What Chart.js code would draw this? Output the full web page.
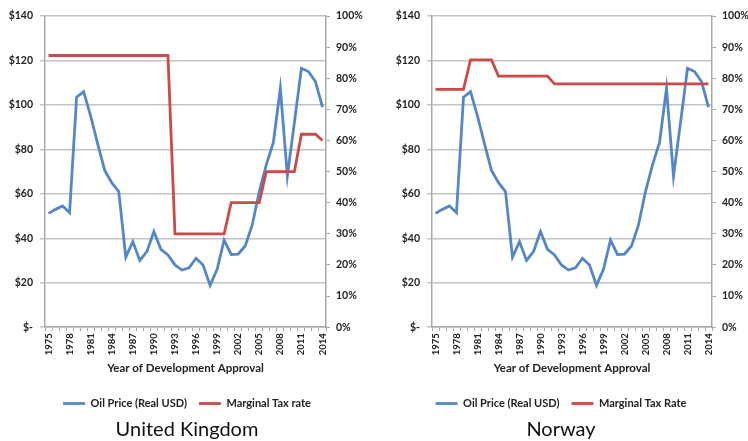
<!DOCTYPE html>
<html>
<head>
<meta charset="utf-8">
<script src="https://cdn.jsdelivr.net/npm/chart.js@4.4.1/dist/chart.umd.min.js"></script>
<style>
  html, body { margin: 0; padding: 0; background: #fff; }
  #wrap { position: relative; width: 748px; height: 441px; overflow: hidden; }
  .box { position: absolute; top: 0; width: 374px; height: 441px; }
</style>
</head>
<body>
<div id="wrap">
  <div class="box" style="left:0"><canvas id="uk" width="374" height="441"></canvas></div>
  <div class="box" style="left:374px"><canvas id="no" width="374" height="441"></canvas></div>
</div>
<script>
const years = [];
for (let y = 1975; y <= 2014; y++) years.push(String(y));

const oilPrice = [51.2, 53, 54.5, 51.5, 103.5, 106, 95, 82.5, 70.5, 65,
                  61, 31.5, 38.5, 30, 34, 43, 35, 32.5, 28, 25.7,
                  26.7, 31, 28, 18.8, 26, 39.2, 32.7, 32.9, 36.5, 46,
                  61, 73, 83, 107.5, 68, 92, 116.5, 115, 110.5, 99];

const ukTaxRate = [87.3, 87.3, 87.3, 87.3, 87.3, 87.3, 87.3, 87.3, 87.3, 87.3,
                   87.3, 87.3, 87.3, 87.3, 87.3, 87.3, 87.3, 87.3, 30, 30,
                   30, 30, 30, 30, 30, 30, 40, 40, 40, 40,
                   40, 50, 50, 50, 50, 50, 62, 62, 62, 60];

const norwayTaxRate = [76.4, 76.4, 76.4, 76.4, 76.4, 85.9, 85.9, 85.9, 85.9, 80.7,
                       80.7, 80.7, 80.7, 80.7, 80.7, 80.7, 80.7, 78.2, 78.2, 78.2,
                       78.2, 78.2, 78.2, 78.2, 78.2, 78.2, 78.2, 78.2, 78.2, 78.2,
                       78.2, 78.2, 78.2, 78.2, 78.2, 78.2, 78.2, 78.2, 78.2, 78.2];

const priceTicks = [0, 20, 40, 60, 80, 100, 120, 140];
const rateTicks = [0, 10, 20, 30, 40, 50, 60, 70, 80, 90, 100];

const FONT = "Lato, 'Open Sans', sans-serif";
const TXT = '#222';
const GRID = '#c4c4c4';

function makeChart(id, titleText, taxLabel, taxData, leftW, rightW) {
  return new Chart(document.getElementById(id), {
    type: 'line',
    data: {
      labels: years,
      datasets: [
        { label: 'Oil Price (Real USD)', data: oilPrice, yAxisID: 'y',
          borderColor: '#5586c8', backgroundColor: '#5586c8', borderWidth: 2.8,
          pointRadius: 0, tension: 0, order: 2 },
        { label: taxLabel, data: taxData, yAxisID: 'y1',
          borderColor: '#cc4a47', backgroundColor: '#cc4a47', borderWidth: 2.8,
          pointRadius: 0, tension: 0, order: 1 }
      ]
    },
    options: {
      responsive: false,
      animation: false,
      devicePixelRatio: 1,
      layout: { padding: { top: 16, left: 0, right: 0, bottom: 0 } },
      plugins: {
        tooltip: { enabled: false },
        legend: {
          position: 'bottom',
          labels: {
            usePointStyle: true, pointStyle: 'line', pointStyleWidth: 22,
            boxHeight: 3, padding: 12,
            color: TXT, font: { family: FONT, size: 11, weight: '700' },
            sort: (a, b) => a.datasetIndex - b.datasetIndex
          }
        },
        title: {
          display: true, position: 'bottom', text: titleText, color: '#111',
          font: { family: FONT, size: 20, weight: 'normal', lineHeight: 1.1 },
          padding: { top: 0, bottom: 0 }
        }
      },
      scales: {
        x: {
          type: 'category',
          offset: true,
          grid: { display: true, drawOnChartArea: false, drawTicks: true, tickLength: 4,
                  color: '#a8a8a8', offset: true },
          border: { display: true, color: '#a8a8a8', width: 1.5 },
          ticks: {
            autoSkip: false, maxRotation: 90, minRotation: 90, padding: 2,
            color: TXT, font: { family: FONT, size: 9.5, weight: '700' },
            callback: function (v, i) { return (i % 3 === 0) ? this.getLabelForValue(v) : ''; }
          },
          title: { display: true, text: 'Year of Development Approval', color: TXT,
                   font: { family: FONT, size: 11.5, weight: '700' }, padding: { top: 4, bottom: 11 } }
        },
        y: {
          position: 'left', min: 0, max: 140,
          afterBuildTicks: s => { s.ticks = priceTicks.map(v => ({ value: v })); },
          afterFit: s => { s.width = leftW; },
          grid: { color: GRID, lineWidth: 1.5, drawTicks: true, tickLength: 5 },
          border: { display: true, color: '#a8a8a8', width: 1.5 },
          ticks: { padding: 7, color: TXT, font: { family: FONT, size: 10.5, weight: '700' },
                   callback: v => v === 0 ? '$-' : '$' + v }
        },
        y1: {
          position: 'right', min: 0, max: 100,
          afterBuildTicks: s => { s.ticks = rateTicks.map(v => ({ value: v })); },
          afterFit: s => { s.width = rightW; },
          grid: { drawOnChartArea: false, drawTicks: true, tickLength: 4, color: '#a8a8a8' },
          border: { display: true, color: '#a8a8a8', width: 1.5 },
          ticks: { padding: 6, color: TXT, font: { family: FONT, size: 10.5, weight: '700' },
                   callback: v => v + '%' }
        }
      }
    }
  });
}

makeChart('uk', 'United Kingdom', 'Marginal Tax rate', ukTaxRate, 45, 48);
makeChart('no', 'Norway', 'Marginal Tax Rate', norwayTaxRate, 58, 36);
</script>
</body>
</html>
